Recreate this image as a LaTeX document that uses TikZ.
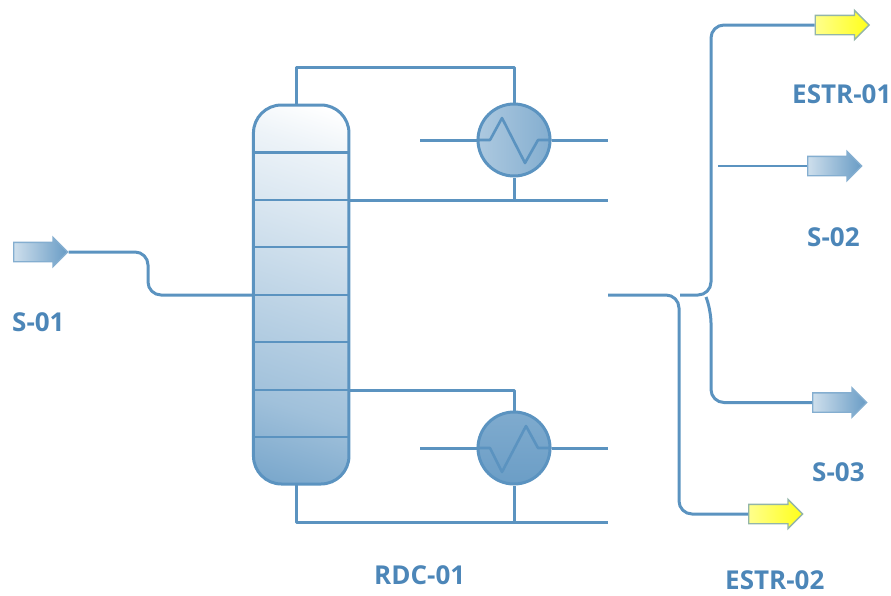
\documentclass[tikz,border=0pt]{standalone}
\usepackage{fontspec}
\setmainfont{Open Sans}
\usetikzlibrary{shapes.arrows}
\definecolor{pipe}{HTML}{5B93C0}
\definecolor{labelblue}{HTML}{4C86B8}
\definecolor{yedge}{HTML}{93B5A8}
\colorlet{sA}{pipe!88}
\colorlet{sB}{pipe!58}
\colorlet{sC}{pipe!40}
\colorlet{sD}{pipe!20}
\colorlet{sE}{pipe!11}
\colorlet{sF}{white}
\pgfdeclareverticalshading{colgrad}{100bp}{color(0bp)=(sA); color(16bp)=(sA); color(32bp)=(sB); color(48bp)=(sC); color(65bp)=(sD); color(73bp)=(sE); color(80bp)=(sF); color(100bp)=(sF)}
\tikzset{
  pipeline/.style={draw=pipe,line width=3pt,line join=round},
  thinpipe/.style={draw=pipe,line width=2.6pt,line join=round},
  bendy/.style={pipeline,rounded corners=13pt},
  tray/.style={draw=pipe,line width=2.8pt},
  stream/.style={single arrow,single arrow head extend=5pt,single arrow tip angle=90,
    single arrow head indent=0pt,minimum width=28pt,minimum height=54pt,inner sep=9pt,
    anchor=tail,line width=1.4pt},
  bluestream/.style={stream,draw=pipe!75,left color=pipe!30,right color=pipe!92},
  yellowstream/.style={stream,draw=yedge,left color=yellow!45!white,right color=yellow!90!white},
  hx/.style={circle,draw=pipe,line width=3pt,minimum size=72pt,inner sep=0pt},
  tag/.style={text=labelblue,font=\fontsize{26pt}{28pt}\selectfont\bfseries,inner sep=0pt}
}
\begin{document}
\begin{tikzpicture}[x=1pt,y=-1pt]
\useasboundingbox (0,0) rectangle (891,595);
% column
\node[rectangle,rounded corners=28pt,draw=pipe,line width=3pt,minimum width=95.5pt,minimum height=379pt,
  inner sep=0pt,shade,shading=colgrad,shading angle=-18] (col) at (301.2,294.5) {};
\foreach \yy in {152.5,200,247,295,342,390,437}{
  \draw[tray] (col.west |- 0,\yy) -- (col.east |- 0,\yy);
}
% exchangers
\node[hx,left color=pipe!50,right color=pipe!75] (hxt) at (514,140) {};
\node[hx,top color=pipe!78,bottom color=pipe!90] (hxb) at (514,448) {};
\coordinate (hxtA) at (420,140);
\coordinate (hxtB) at (608,140);
\coordinate (hxbA) at (420,448);
\coordinate (hxbB) at (608,448);
\draw[pipeline] (hxtA) -- (hxt.west) (hxt.east) -- (hxtB);
\draw[pipeline] (hxbA) -- (hxb.west) (hxb.east) -- (hxbB);
\draw[thinpipe] (hxt.west) -- (490,140) -- (502,118) -- (525,163) -- (538,140) -- (hxt.east);
\draw[thinpipe] (hxb.west) -- (490,448) -- (502,472) -- (526,426) -- (538,448) -- (hxb.east);
% overhead and reboiler piping
\coordinate (coltop) at (296,105);
\coordinate (colbot) at (296,484);
\coordinate (ovh) at (608,200);
\coordinate (btm) at (608,522);
\draw[pipeline] (coltop) -- (296,67) -- (514,67) -- (hxt.north);
\draw[pipeline] (col.east |- 0,200) -- (ovh);
\draw[pipeline] (hxt.south) -- (hxt.south |- ovh);
\draw[pipeline] (col.east |- 0,390) -- (514,390) -- (hxb.north);
\draw[pipeline] (colbot) -- (296,522) -- (btm);
\draw[pipeline] (hxb.south) -- (hxb.south |- btm);
% streams
\coordinate (j1) at (680,295);
\coordinate (j2) at (706,297);
\coordinate (j3) at (718,166);
\coordinate (out) at (608,295);
\node[bluestream] (s1) at (13,252) {};
\node[yellowstream] (e1) at (814.5,25) {};
\node[bluestream] (s2) at (807,166) {};
\node[bluestream] (s3) at (812,402.5) {};
\node[yellowstream] (e2) at (748,514) {};
\draw[bendy] (s1.tip) -- (148,252) -- (148,295) -- (col.west |- 0,295);
\draw[bendy] (out) -- (679,295) -- (679,514) -- (e2.tail);
\draw[bendy] (j1) -- (711,295) -- (711,25) -- (e1.tail);
\draw[bendy] (j2) -- (711,310) -- (711,402.5) -- (s3.tail);
\draw[thinpipe] (j3) -- (s2.tail);
% labels
\node[tag,anchor=west] (l1) at (12,322) {S-01};
\node[tag,anchor=west] (l2) at (792,94) {ESTR-01};
\node[tag,anchor=west] (l3) at (807,237) {S-02};
\node[tag,anchor=west] (l4) at (812,472) {S-03};
\node[tag,anchor=west] (l5) at (725,580.5) {ESTR-02};
\node[tag,anchor=west] (l6) at (374,575) {RDC-01};
\end{tikzpicture}
\end{document}
